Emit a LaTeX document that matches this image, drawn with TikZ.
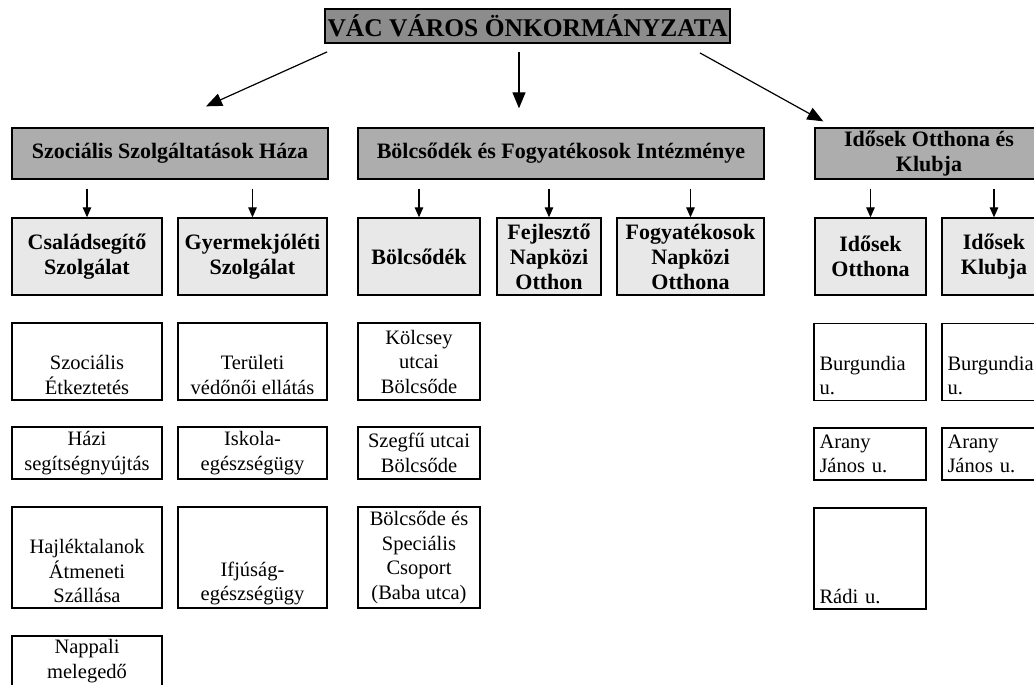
\documentclass[tikz,border=0pt]{standalone}
\usepackage{fontspec}
\setmainfont{Liberation Serif}
\usetikzlibrary{arrows.meta}
\definecolor{topgray}{gray}{0.55}
\definecolor{headgray}{gray}{0.68}
\definecolor{subgray}{gray}{0.91}
\tikzset{
  topbox/.style={draw, fill=topgray, line width=1.8, inner sep=0pt, font=\bfseries\fontsize{25.5}{27}\selectfont},
  headbox/.style={draw, fill=headgray, line width=1.3, inner sep=0pt, align=center, minimum height=51, font=\bfseries\fontsize{22}{25}\selectfont},
  subbox/.style={draw, fill=subgray, line width=1.3, inner sep=0pt, align=center, minimum height=77, font=\bfseries\fontsize{22}{25}\selectfont},
  unitbox/.style={draw, fill=white, line width=1.1, inner sep=0pt, align=center, font=\fontsize{20.5}{24.5}\selectfont},
  streetbox/.style={unitbox, align=left, inner xsep=5, text width=101, minimum width=112},
  bigarrow/.style={-{Triangle[length=16,width=13]}, line width=1.2},
  smallarrow/.style={-{Triangle[length=10,width=8.5]}, line width=1.2}
}
\begin{document}
\begin{tikzpicture}[x=1pt,y=-1pt]
\useasboundingbox (0,0) rectangle (1034,685);
% top
\node[topbox, minimum width=405, minimum height=34] (vac) at (527.5,26) {VÁC VÁROS ÖNKORMÁNYZATA};
% institutions
\node[headbox, minimum width=316] (szsz) at (170,153.5) {Szociális Szolgáltatások Háza};
\node[headbox, minimum width=406] (bfi) at (561,153.5) {Bölcsődék és Fogyatékosok Intézménye};
\node[headbox, minimum width=228] (iok) at (929,153.5) {Idősek Otthona és\\Klubja};
\draw[bigarrow] ([shift={(3,8)}]vac.south west) -- ([shift={(36,-21)}]szsz.north);
\draw[bigarrow] ([shift={(-8.5,8)}]vac.south) -- ([shift={(-42,-19)}]bfi.north);
\draw[bigarrow] ([shift={(-31,9)}]vac.south east) -- ([shift={(9,-6)}]iok.north west);
% units
\node[subbox, minimum width=150] (csal) at (87,256.5) {Családsegítő\\Szolgálat};
\node[subbox, minimum width=149] (gyer) at (252.5,256.5) {Gyermekjóléti\\Szolgálat};
\node[subbox, minimum width=122] (bolcs) at (419,256.5) {Bölcsődék};
\node[subbox, minimum width=104] (fejl) at (549,256.5) {Fejlesztő\\Napközi\\Otthon};
\node[subbox, minimum width=147] (fogy) at (690.5,256.5) {Fogyatékosok\\Napközi\\Otthona};
\node[subbox, minimum width=111] (ido) at (870.5,256.5) {Idősek\\Otthona};
\node[subbox, minimum width=104] (idk) at (994,256.5) {Idősek\\Klubja};
\foreach \a/\b in {szsz/csal, szsz/gyer, bfi/bolcs, bfi/fejl, bfi/fogy, iok/ido, iok/idk}
  \draw[smallarrow] (\b.north |- \a.south) ++(0,9) -- (\b.north);
% services
\node[unitbox, minimum width=150, minimum height=77] (szet) at (87,361.5) {\strut\\Szociális\\Étkeztetés};
\node[unitbox, minimum width=149, minimum height=77] (terv) at (252.5,361.5) {\strut\\Területi\\védőnői ellátás};
\node[unitbox, minimum width=122, minimum height=77] (kolcs) at (419,361.5) {Kölcsey\\utcai\\Bölcsőde};
\node[streetbox, minimum height=77] (burg1) at (870,362) {\strut\\Burgundia\\u.};
\node[streetbox, minimum height=77] (burg2) at (998,362) {\strut\\Burgundia\\u.};
\node[unitbox, minimum width=150, minimum height=52] (hazi) at (87,453) {Házi\\segítségnyújtás};
\node[unitbox, minimum width=149, minimum height=52] (isk) at (252.5,453) {Iskola-\\egészségügy};
\node[unitbox, minimum width=122, minimum height=52] (szegf) at (419,453) {Szegfű utcai\\Bölcsőde};
\node[streetbox, minimum height=52] (arany1) at (870,454) {Arany\\János u.};
\node[streetbox, minimum height=52] (arany2) at (998,454) {Arany\\János u.};
\node[unitbox, minimum width=150, minimum height=101] (hajl) at (87,557.5) {\strut\\Hajléktalanok\\Átmeneti\\Szállása};
\node[unitbox, minimum width=149, minimum height=101] (ifj) at (252.5,557.5) {\strut\\\strut\\Ifjúság-\\egészségügy};
\node[unitbox, minimum width=122, minimum height=101] (bspec) at (419,557.5) {Bölcsőde és\\Speciális\\Csoport\\(Baba utca)};
\node[streetbox, minimum height=101] (radi) at (870,558.5) {\strut\\\strut\\\strut\\Rádi u.};
\node[unitbox, minimum width=150, minimum height=102] (napm) at (87,687) {Nappali\\melegedő\\\strut\\\strut};
\end{tikzpicture}
\end{document}
